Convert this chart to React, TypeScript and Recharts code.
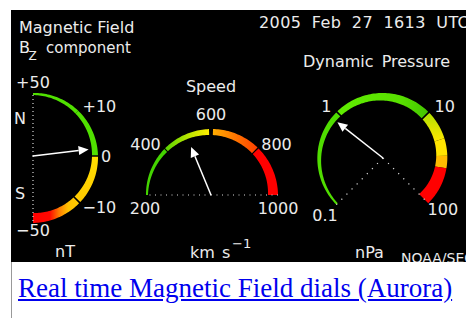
import React from "react";
import { PieChart, Pie } from "recharts";

// Bz dial, nT (north at top, south at bottom)
const bzBands = [50, 10, 0, -10, -50];
const bzTickLabels = ["+50", "+10", "0", "−10", "−50"];
const bzValue = 1.5;

// solar wind speed, km/s
const speedBands = [200, 400, 600, 800, 1000];
const speedTickLabels = ["200", "400", "600", "800", "1000"];
const speedValue = 500;

// dynamic pressure, nPa (log dial)
const pressureBands = [0.1, 1, 10, 20, 30, 40, 100];
const pressureTicks = [0.1, 1, 10, 100];
const pressureTickLabels = ["0.1", "1", "10", "100"];
const pressureValue = 0.84;

const RAD = Math.PI / 180;

const bzAngle = (v: number) => {
  const a = Math.abs(v);
  const deg = a <= 10 ? a * 4.5 : 45 + (a - 10) * (45 / 40);
  return Math.sign(v) * deg;
};
const speedAngle = (v: number) => 180 - ((v - 200) * 180) / 800;
const pressureAngle = (v: number) => 225 - (Math.log10(v) + 1) * 90;

type Layout = { r: number; anchor: string; dx?: number; dy?: number };

interface Dial {
  id: string;
  cx: number;
  cy: number;
  angle: (v: number) => number;
  bands: number[];
  ticks: number[];
  tickLabels: string[];
  tickLayout: Layout[];
  value: number;
  r0: number;
  r1: number;
  w0: number;
  w1: number;
  fills: string[];
  gaps: number[];
  dash: string;
  needleLen: number;
}

const dials: Dial[] = [
  {
    id: "bz",
    cx: 22,
    cy: 146,
    angle: bzAngle,
    bands: bzBands,
    ticks: bzBands,
    tickLabels: bzTickLabels,
    tickLayout: [
      { r: 74, anchor: "middle" },
      { r: 70, anchor: "start" },
      { r: 68, anchor: "start" },
      { r: 70, anchor: "start", dy: 2 },
      { r: 74, anchor: "middle" },
    ],
    value: bzValue,
    r0: 63,
    r1: 67,
    w0: 2,
    w1: 10,
    fills: ["#50e000", "#50e000", "url(#bzYellow)", "url(#bzRed)"],
    gaps: [0, 0, 1.5, 1.5],
    dash: "1 3",
    needleLen: 56,
  },
  {
    id: "speed",
    cx: 200,
    cy: 185,
    angle: speedAngle,
    bands: speedBands,
    ticks: speedBands,
    tickLabels: speedTickLabels,
    tickLayout: [
      { r: 66, anchor: "middle", dy: 13 },
      { r: 71, anchor: "end" },
      { r: 81, anchor: "middle" },
      { r: 71, anchor: "start" },
      { r: 67, anchor: "middle", dy: 13 },
    ],
    value: speedValue,
    r0: 65,
    r1: 67,
    w0: 2,
    w1: 10,
    fills: ["#44d400", "url(#spGreen)", "url(#spOrange)", "#ff0000"],
    gaps: [0, 1, 3.5, 1.2],
    dash: "1 4.5",
    needleLen: 52,
  },
  {
    id: "pressure",
    cx: 372,
    cy: 148,
    angle: pressureAngle,
    bands: pressureBands,
    ticks: pressureTicks,
    tickLabels: pressureTickLabels,
    tickLayout: [
      { r: 82, anchor: "middle" },
      { r: 73, anchor: "end" },
      { r: 73, anchor: "start" },
      { r: 79, anchor: "middle", dx: 4, dy: -4 },
    ],
    value: pressureValue,
    r0: 66,
    r1: 64,
    w0: 2,
    w1: 13,
    fills: ["#50dd00", "url(#prGreen)", "url(#prLime)", "#ffe400", "#ffbb00", "#ff0000"],
    gaps: [0, 1.5, 1.5, 0, 0, 0],
    dash: "1.2 6",
    needleLen: 58,
  },
];

const pt = (cx: number, cy: number, r: number, a: number) =>
  `${(cx + r * Math.cos(a * RAD)).toFixed(2)},${(cy - r * Math.sin(a * RAD)).toFixed(2)}`;

function radiusAt(d: Dial, a: number) {
  const start = d.angle(d.bands[0]);
  const end = d.angle(d.bands[d.bands.length - 1]);
  const f = (start - a) / (start - end);
  const ro = d.r0 + (d.r1 - d.r0) * f;
  return { ro, ri: ro - (d.w0 + (d.w1 - d.w0) * f) };
}

function bandPath(d: Dial, cx: number, cy: number, sa: number, ea: number) {
  const n = Math.max(6, Math.ceil(Math.abs(sa - ea) / 1.5));
  const outer: string[] = [];
  const inner: string[] = [];
  for (let k = 0; k <= n; k++) {
    const a = sa + ((ea - sa) * k) / n;
    const { ro, ri } = radiusAt(d, a);
    outer.push(pt(cx, cy, ro, a));
    inner.push(pt(cx, cy, ri, a));
  }
  return "M" + outer.join("L") + "L" + inner.reverse().join("L") + "Z";
}

function bandLabel(d: Dial) {
  return (p: any) => {
    const i = p.index;
    const sa = p.startAngle - d.gaps[i] / 2;
    const ea = p.endAngle + (i + 1 < d.gaps.length ? d.gaps[i + 1] / 2 : 0);
    const last = i === d.bands.length - 2;
    const rs = radiusAt(d, p.startAngle).ro;
    const re = radiusAt(d, p.endAngle).ro;
    return (
      <g>
        <path d={bandPath(d, p.cx, p.cy, sa, ea)} fill={d.fills[i]} />
        {i === 0 && (
          <line
            x1={p.cx}
            y1={p.cy}
            x2={p.cx + rs * Math.cos(p.startAngle * RAD)}
            y2={p.cy - rs * Math.sin(p.startAngle * RAD)}
            stroke="#d8d8d8"
            strokeWidth={1.2}
            strokeDasharray={d.dash}
          />
        )}
        {last && (
          <line
            x1={p.cx}
            y1={p.cy}
            x2={p.cx + re * Math.cos(p.endAngle * RAD)}
            y2={p.cy - re * Math.sin(p.endAngle * RAD)}
            stroke="#d8d8d8"
            strokeWidth={1.2}
            strokeDasharray={d.dash}
          />
        )}
      </g>
    );
  };
}

function needleLabel(d: Dial) {
  return (p: any) => {
    if (p.index !== 0) return <g />;
    const a = p.endAngle * RAD;
    const ux = Math.cos(a);
    const uy = -Math.sin(a);
    const tx = p.cx + d.needleLen * ux;
    const ty = p.cy + d.needleLen * uy;
    const head = 10;
    const bx = tx - head * ux;
    const by = ty - head * uy;
    const hw = 4.5;
    return (
      <g>
        <line x1={p.cx} y1={p.cy} x2={bx} y2={by} stroke="#fff" strokeWidth={1.5} />
        <polygon
          points={`${tx},${ty} ${bx - hw * uy},${by + hw * ux} ${bx + hw * uy},${by - hw * ux}`}
          fill="#fff"
        />
      </g>
    );
  };
}

const txt: React.CSSProperties = {
  fontFamily: '"DejaVu Sans", sans-serif',
  fontSize: 16,
  fill: "#ececec",
};

export default function App() {
  return (
    <div style={{ position: "absolute", left: 0, top: 0, width: 466, height: 318, background: "#fff", overflow: "hidden" }}>
      <div style={{ position: "absolute", left: 11, top: 10, width: 455, height: 252, background: "#000", overflow: "hidden" }}>
        <svg width={0} height={0} style={{ position: "absolute" }}>
          <defs>
            <linearGradient id="bzYellow" x1="0" y1="0" x2="0" y2="1">
              <stop offset="0" stopColor="#ffe000" />
              <stop offset="1" stopColor="#ffc800" />
            </linearGradient>
            <linearGradient id="bzRed" x1="0" y1="0" x2="1" y2="0">
              <stop offset="0" stopColor="#ff0000" />
              <stop offset="0.36" stopColor="#ff0800" />
              <stop offset="0.56" stopColor="#ff7a00" />
              <stop offset="0.76" stopColor="#ffc000" />
              <stop offset="1" stopColor="#ffcc00" />
            </linearGradient>
            <linearGradient id="spGreen" x1="0" y1="0" x2="1" y2="0">
              <stop offset="0" stopColor="#58d400" />
              <stop offset="0.5" stopColor="#b4e400" />
              <stop offset="1" stopColor="#ffee00" />
            </linearGradient>
            <linearGradient id="spOrange" x1="0" y1="0" x2="1" y2="0">
              <stop offset="0" stopColor="#ffac00" />
              <stop offset="1" stopColor="#ff4000" />
            </linearGradient>
            <linearGradient id="prGreen" x1="0" y1="0" x2="1" y2="0">
              <stop offset="0" stopColor="#60ec00" />
              <stop offset="0.7" stopColor="#58e000" />
              <stop offset="1" stopColor="#44c400" />
            </linearGradient>
            <linearGradient id="prLime" x1="0" y1="0" x2="0" y2="1">
              <stop offset="0" stopColor="#b0e000" />
              <stop offset="1" stopColor="#ffe800" />
            </linearGradient>
          </defs>
        </svg>
        <PieChart width={455} height={252} margin={{ top: 0, right: 0, bottom: 0, left: 0 }}>
          {dials.map((d) => (
            <Pie
              key={d.id}
              data={d.bands.slice(0, -1).map((b, i) => ({
                name: `${b}–${d.bands[i + 1]}`,
                value: d.angle(b) - d.angle(d.bands[i + 1]),
              }))}
              dataKey="value"
              cx={d.cx}
              cy={d.cy}
              startAngle={d.angle(d.bands[0])}
              endAngle={d.angle(d.bands[d.bands.length - 1])}
              innerRadius={d.r1 - 1}
              outerRadius={d.r1}
              fill="none"
              stroke="none"
              labelLine={false}
              label={bandLabel(d)}
              isAnimationActive={false}
            />
          ))}
          {dials.map((d) => (
            <Pie
              key={d.id + "-needle"}
              data={[
                { name: "value", value: d.angle(d.bands[0]) - d.angle(d.value) },
                { name: "rest", value: d.angle(d.value) - d.angle(d.bands[d.bands.length - 1]) },
              ]}
              dataKey="value"
              cx={d.cx}
              cy={d.cy}
              startAngle={d.angle(d.bands[0])}
              endAngle={d.angle(d.bands[d.bands.length - 1])}
              innerRadius={0}
              outerRadius={1}
              fill="none"
              stroke="none"
              labelLine={false}
              label={needleLabel(d)}
              isAnimationActive={false}
            />
          ))}
        </PieChart>
        <svg width={455} height={252} style={{ position: "absolute", left: 0, top: 0, pointerEvents: "none" }}>
          {dials.map((d) =>
            d.ticks.map((t, i) => {
              const l = d.tickLayout[i];
              const a = d.angle(t) * RAD;
              return (
                <text
                  key={d.id + t}
                  x={d.cx + l.r * Math.cos(a) + (l.dx || 0)}
                  y={d.cy - l.r * Math.sin(a) + (l.dy || 0)}
                  textAnchor={l.anchor as any}
                  dominantBaseline="central"
                  style={txt}
                >
                  {d.tickLabels[i]}
                </text>
              );
            })
          )}
          <text x={8} y={23} style={txt}>Magnetic Field</text>
          <text x={8} y={43} style={txt}>B</text>
          <text x={17.5} y={50} style={{ ...txt, fontSize: 12 }}>Z</text>
          <text x={35} y={43} style={{ ...txt, fontSize: 15 }}>component</text>
          <text x={248} y={18} style={{ ...txt, wordSpacing: 5, letterSpacing: 0.4 }}>2005 Feb 27 1613 UTC</text>
          <text x={200} y={82} textAnchor="middle" style={txt}>Speed</text>
          <text x={292} y={57} style={{ ...txt, wordSpacing: 3 }}>Dynamic Pressure</text>
          <text x={3} y={108} dominantBaseline="central" style={txt}>N</text>
          <text x={4} y={183} dominantBaseline="central" style={txt}>S</text>
          <text x={44} y={247} style={txt}>nT</text>
          <text x={179} y={248} style={txt}>km</text>
          <text x={211} y={248} style={txt}>s</text>
          <text x={221} y={238} style={{ ...txt, fontSize: 13 }}>−1</text>
          <text x={344} y={248} style={txt}>nPa</text>
          <text x={390} y={253} style={{ ...txt, fontSize: 14 }}>NOAA/SEC</text>
        </svg>
      </div>
      <div style={{ position: "absolute", left: 11, top: 262, width: 1, height: 56, background: "#999" }} />
      <a
        href="#"
        style={{
          position: "absolute",
          left: 18,
          top: 275,
          fontFamily: '"Liberation Serif", "Times New Roman", serif',
          fontSize: 27,
          lineHeight: 1,
          color: "#0000ee",
          textDecoration: "underline",
          whiteSpace: "nowrap",
        }}
      >
        Real time Magnetic Field dials (Aurora)
      </a>
    </div>
  );
}
